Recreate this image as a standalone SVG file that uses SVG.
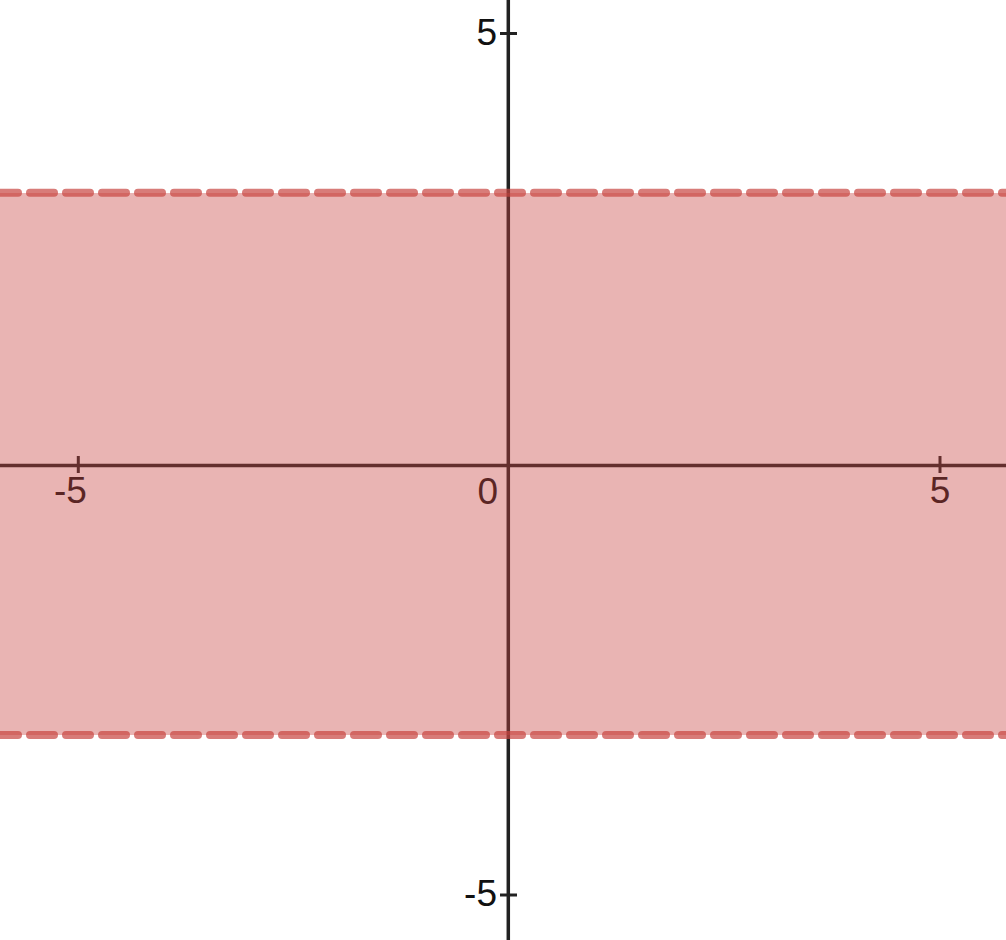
<svg xmlns="http://www.w3.org/2000/svg" width="1006" height="940" viewBox="0 0 1006 940">
<style>
.axis{stroke:#222;stroke-width:3.5;fill:none}
.tick{stroke:#222;stroke-width:3}
.lbl{font-family:"Liberation Sans",Arial,sans-serif;font-size:37px;fill:#111}
.shade{fill:#c74440;fill-opacity:0.4}
.bound{stroke:#c74440;stroke-opacity:0.7;stroke-width:8;stroke-dasharray:24 12;stroke-dashoffset:6;stroke-linecap:round;fill:none}
</style>
<rect width="1006" height="940" fill="#fff"/>
<g id="axes">
<line class="axis" x1="0" y1="465.5" x2="1006" y2="465.5"/>
<line class="axis" x1="508.3" y1="0" x2="508.3" y2="940"/>
<line class="tick" x1="78.3" y1="456" x2="78.3" y2="473"/>
<line class="tick" x1="940" y1="456" x2="940" y2="473"/>
<line class="tick" x1="500" y1="33.5" x2="517" y2="33.5"/>
<line class="tick" x1="500" y1="895" x2="517" y2="895"/>
</g>
<g id="labels">
<text class="lbl" x="70.5" y="503" text-anchor="middle">-5</text>
<text class="lbl" x="940" y="503" text-anchor="middle">5</text>
<text class="lbl" x="498" y="504" text-anchor="end">0</text>
<text class="lbl" x="497" y="44.5" text-anchor="end">5</text>
<text class="lbl" x="497" y="906" text-anchor="end">-5</text>
</g>
<g id="region">
<rect class="shade" x="0" y="193" width="1006" height="542"/>
</g>
<g id="boundaries">
<line class="bound" x1="0" y1="192.7" x2="1006" y2="192.7"/>
<line class="bound" x1="0" y1="735" x2="1006" y2="735"/>
</g>
</svg>
